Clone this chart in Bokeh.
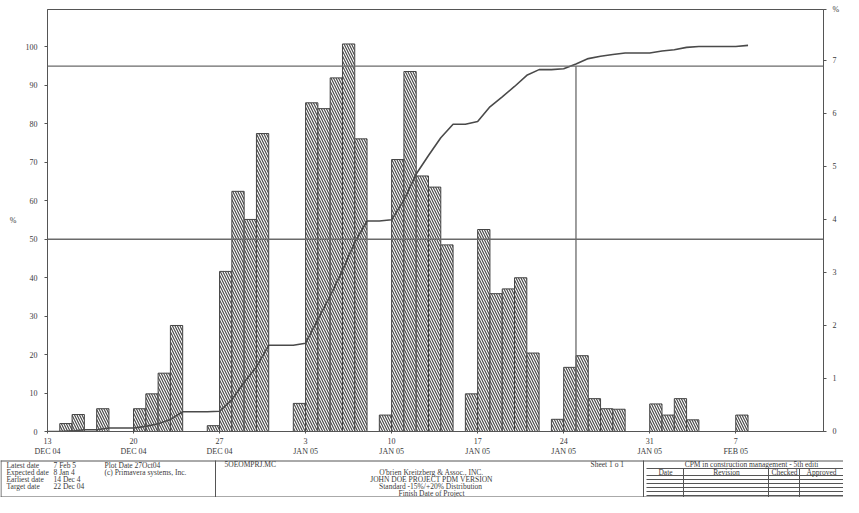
import pandas as pd
from bokeh.plotting import figure
from bokeh.models import Range1d, LinearAxis, FixedTicker, Span, ColumnDataSource
from bokeh.layouts import column
from bokeh.core.properties import value
from bokeh.embed import file_html
from bokeh.resources import INLINE

# ---------------- data ----------------
start_date = "2004-12-13"
bar_dates = ["2004-12-14", "2004-12-15", "2004-12-17", "2004-12-20", "2004-12-21",
             "2004-12-22", "2004-12-23", "2004-12-26", "2004-12-27", "2004-12-28",
             "2004-12-29", "2004-12-30", "2005-01-02", "2005-01-03", "2005-01-04",
             "2005-01-05", "2005-01-06", "2005-01-07", "2005-01-09", "2005-01-10",
             "2005-01-11", "2005-01-12", "2005-01-13", "2005-01-14", "2005-01-16",
             "2005-01-17", "2005-01-18", "2005-01-19", "2005-01-20", "2005-01-21",
             "2005-01-23", "2005-01-24", "2005-01-25", "2005-01-26", "2005-01-27",
             "2005-01-28", "2005-01-31", "2005-02-01", "2005-02-02", "2005-02-03",
             "2005-02-07"]
bar_values = [0.15, 0.32, 0.43, 0.43, 0.71,
              1.10, 2.00, 0.11, 3.02, 4.53,
              4.00, 5.62, 0.53, 6.20, 6.09,
              6.67, 7.31, 5.52, 0.31, 5.13,
              6.79, 4.82, 4.61, 3.52, 0.71,
              3.81, 2.60, 2.69, 2.90, 1.48,
              0.23, 1.21, 1.43, 0.62, 0.43,
              0.42, 0.52, 0.31, 0.62, 0.22,
              0.31]
tick_dates = ["2004-12-13", "2004-12-20", "2004-12-27", "2005-01-03", "2005-01-10",
              "2005-01-17", "2005-01-24", "2005-01-31", "2005-02-07"]
tick_labels = ["13\nDEC 04", "20\nDEC 04", "27\nDEC 04", "3\nJAN 05", "10\nJAN 05",
               "17\nJAN 05", "24\nJAN 05", "31\nJAN 05", "7\nFEB 05"]
left_ticks = [0, 10, 20, 30, 40, 50, 60, 70, 80, 90, 100]
right_ticks = [0, 1, 2, 3, 4, 5, 6, 7]
levels = [50, 95]

info_labels = ["Latest date", "Expected date", "Earliest date", "Target date"]
info_values = ["7 Feb 5", "8 Jan 4", "14 Dec 4", "22 Dec 04"]
plot_notes = ["Plot Date 27Oct04", "(c) Primavera systems, Inc."]
project_lines = ["O'brien Kreitzberg & Assoc., INC.", "JOHN DOE PROJECT PDM VERSION",
                 "Standard  -15%/+20% Distribution", "Finish Date of Project"]
table_headers = ["Date", "Revision", "Checked", "Approved"]

# ---------------- derived ----------------
t0 = pd.Timestamp(start_date)
bar_day = [(pd.Timestamp(d) - t0).days for d in bar_dates]
tick_day = [(pd.Timestamp(d) - t0).days for d in tick_dates]
n_days = max(bar_day) + 1
daily = pd.Series(0.0, index=range(n_days))
for d, v in zip(bar_day, bar_values):
    daily[d] = v
cum = daily.cumsum()
line_x = [0] + [d + 1 for d in daily.index]
line_y = [0.0] + list(cum.values)
cross_day = int(cum[cum >= levels[1]].index[0]) + 1

FONT = "Liberation Serif"
INK = "#3a3a3a"

# ---------------- chart ----------------
p = figure(width=843, height=459, x_range=Range1d(0, 63.14), y_range=Range1d(0, 109.75),
           output_backend="svg", toolbar_location=None,
           min_border_left=47, min_border_right=20, min_border_top=9, min_border_bottom=28)
p.extra_y_ranges = {"pct": Range1d(0, 7.96)}
p.grid.visible = False
p.outline_line_color = "#555555"
p.outline_line_width = 1
p.background_fill_color = "white"
p.border_fill_color = "white"

bars = ColumnDataSource(dict(x=[d + 0.5 for d in bar_day], top=bar_values))
p.vbar(x="x", top="top", width=1.0, source=bars, y_range_name="pct",
       fill_color="white", line_color="#444444", line_width=1,
       hatch_pattern="\\", hatch_color="#4a4a4a", hatch_scale=5.0, hatch_weight=1.2)

for lv in levels:
    p.add_layout(Span(location=lv, dimension="width", line_color="#6a6a6a", line_width=1.3))
p.segment(x0=[cross_day], y0=[0], x1=[cross_day], y1=[levels[1]],
          line_color="#6a6a6a", line_width=1.3)

p.line(line_x, line_y, line_color="#4a4a4a", line_width=1.6)

# axes
xa = p.xaxis[0]
xa.ticker = FixedTicker(ticks=tick_day)
xa.major_label_overrides = {d: lab for d, lab in zip(tick_day, tick_labels)}
ya = p.yaxis[0]
ya.ticker = FixedTicker(ticks=left_ticks)
ya.axis_label = "%"
ya.axis_label_standoff = 6
ya.axis_label_text_font = FONT
ya.axis_label_text_font_size = "8px"
ya.axis_label_text_font_style = "normal"
ya.axis_label_text_color = INK
try:
    ya.axis_label_orientation = "horizontal"
except Exception:
    pass

top_r = p.extra_y_ranges["pct"].end
ra = LinearAxis(y_range_name="pct", ticker=FixedTicker(ticks=right_ticks + [top_r]))
ra.major_label_overrides = {top_r: "%"}
p.add_layout(ra, "right")

for ax in (xa, ya, ra):
    ax.major_label_text_font = FONT
    ax.major_label_text_font_size = "8px"
    ax.major_label_text_color = INK
    ax.axis_line_color = "#555555"
    ax.major_tick_line_color = "#555555"
    ax.minor_tick_line_color = None
    ax.major_tick_in = 0
    ax.major_tick_out = 3
xa.major_tick_out = 2
xa.major_label_standoff = 3
ya.major_label_standoff = 7
ra.major_label_standoff = 6

# ---------------- title block ----------------
q = figure(width=843, height=38, x_range=Range1d(0, 843), y_range=Range1d(497, 459),
           output_backend="svg", toolbar_location=None, min_border=0,
           x_axis_location=None, y_axis_location=None)
q.grid.visible = False
q.outline_line_color = None
for fig in (p, q):
    try:
        fig.frame_align = False
    except Exception:
        pass

frame_xs = [[0, 843], [0, 843], [0.5, 0.5], [215, 215], [643, 643],
            [646, 843], [683, 683], [768, 768], [799, 799]]
frame_ys = [[460.5, 460.5], [496.5, 496.5], [460, 497], [460, 497], [460, 497],
            [468, 468], [468, 497], [468, 497], [468, 497]]
for ry in (475, 479, 483, 487, 491, 495):
    frame_xs.append([646, 843])
    frame_ys.append([ry, ry])
q.multi_line(frame_xs, frame_ys, line_color="#555555", line_width=1)

row_y = [464.5, 471.5, 478.5, 485.5, 492.5]
left_src = ColumnDataSource(dict(
    x=[6] * 4 + [53] * 4 + [104, 104, 224, 590],
    y=row_y[:4] + row_y[:4] + row_y[:2] + [464, 464],
    t=info_labels + info_values + plot_notes + ["5OEOMPRJ.MC", "Sheet 1 o 1"]))
q.text(x="x", y="y", text="t", source=left_src, text_font=value(FONT),
       text_font_size=value("7.5px"), text_color=INK, text_align="left",
       text_baseline="middle")

center_src = ColumnDataSource(dict(
    x=[431] * 4 + [751, 665, 726, 784, 821],
    y=row_y[1:] + [464, 471.5, 471.5, 471.5, 471.5],
    t=project_lines + ["CPM in construction management - 5th editi"] + table_headers))
q.text(x="x", y="y", text="t", source=center_src, text_font=value(FONT),
       text_font_size=value("7.5px"), text_color=INK, text_align="center",
       text_baseline="middle")

layout = column(p, q, spacing=0)
open("out.html", "w").write(file_html(layout, INLINE))
